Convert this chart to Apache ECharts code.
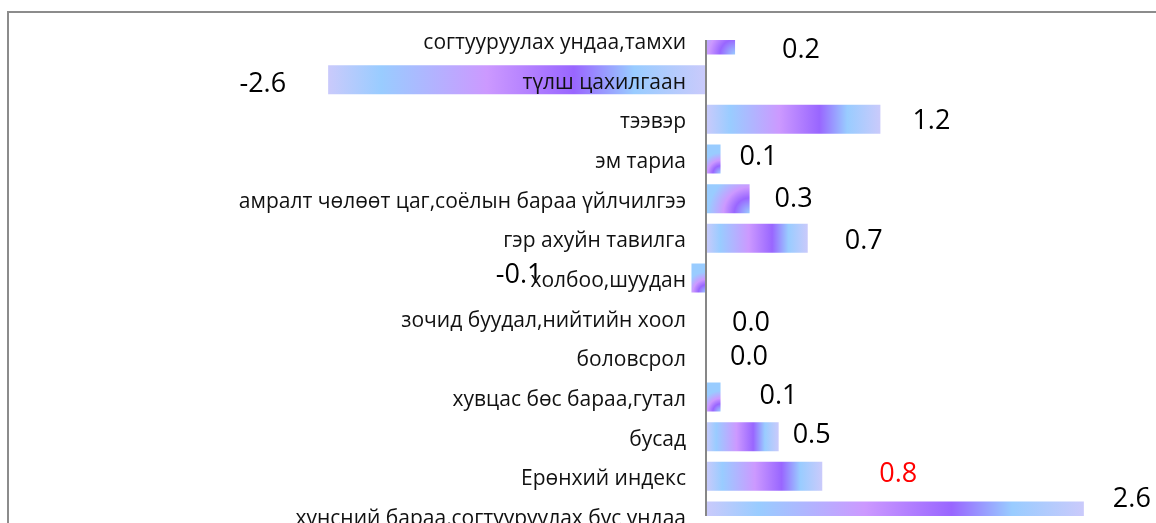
<!DOCTYPE html>
<html>
<head>
<meta charset="utf-8">
<title>Index change by group</title>
<script src="https://cdn.jsdelivr.net/npm/echarts@6/dist/echarts.min.js"></script>
<style>
  html, body { margin: 0; padding: 0; background: #fff; }
  #chart { width: 1156px; height: 523px; }
</style>
</head>
<body>
<div id="chart"></div>
<script>
// chart data
const categories = [
  'согтууруулах ундаа,тамхи',
  'түлш цахилгаан',
  'тээвэр',
  'эм тариа',
  'амралт чөлөөт цаг,соёлын бараа үйлчилгээ',
  'гэр ахуйн тавилга',
  'холбоо,шуудан',
  'зочид буудал,нийтийн хоол',
  'боловсрол',
  'хувцас бөс бараа,гутал',
  'бусад',
  'Ерөнхий индекс',
  'хүнсний бараа,согтууруулах бус ундаа'
]
const values = [0.2, -2.6, 1.2, 0.1, 0.3, 0.7, -0.1, 0.0, 0.0, 0.1, 0.5, 0.8, 2.6]
const highlightCategory = 'Ерөнхий индекс'

// hand-placed value labels (dx, dy in px), like the original
const labelNudge = [
  [47, 10], [-42, 5], [32, 2], [19, -2], [25, 1], [37, 3], [-149, -3],
  [26, 6], [24, 0], [39, -1], [14, -1], [57, -2], [29, -17]
]

// plot box: zero line sits at x = 706
const gridLeft = 270
const gridTop = 40
const gridBottom = 7
const zeroX = 706

// long bars: horizontal gradient, short bars: corner gradient
const linearFill = {
  type: 'linear', x: 0, y: 0, x2: 1, y2: 0,
  colorStops: [
    { offset: 0, color: '#cacafb' },
    { offset: 0.14, color: '#99ccff' },
    { offset: 0.42, color: '#cc99ff' },
    { offset: 0.65, color: '#9966ff' },
    { offset: 0.81, color: '#99ccff' },
    { offset: 1, color: '#cacafb' }
  ]
}
const cornerFill = {
  type: 'radial', x: 1, y: 1, r: 1.5,
  colorStops: [
    { offset: 0, color: '#99ccff' },
    { offset: 0.35, color: '#9966ff' },
    { offset: 0.6, color: '#cc99ff' },
    { offset: 0.95, color: '#99ccff' },
    { offset: 1, color: '#99ccff' }
  ]
}

const chart = echarts.init(document.getElementById('chart'))

chart.setOption({
  animation: false,
  graphic: [
    // outer frame
    {
      type: 'rect',
      silent: true,
      z: -1,
      shape: { x: 8, y: 12, width: 1300, height: 700 },
      style: { fill: 'none', stroke: '#8c8c8c', lineWidth: 2 }
    },
    // the plot area cuts the first and last bars in half
    {
      type: 'rect',
      silent: true,
      z: 10,
      shape: { x: zeroX - 2, y: 14, width: 62, height: gridTop - 14 },
      style: { fill: '#fff' }
    },
    {
      type: 'rect',
      silent: true,
      z: 10,
      shape: { x: zeroX - 2, y: 523 - gridBottom, width: 402, height: gridBottom },
      style: { fill: '#fff' }
    }
  ],
  grid: {
    left: gridLeft,
    right: 14,
    top: gridTop,
    bottom: gridBottom,
    containLabel: false,
    outerBoundsMode: 'none'
  },
  xAxis: {
    type: 'value',
    min: -3,
    max: 3,
    show: false
  },
  yAxis: {
    type: 'category',
    data: categories,
    inverse: true,
    boundaryGap: false,
    z: 3,
    axisLine: {
      onZero: true,
      lineStyle: { color: '#878787', width: 2 }
    },
    axisTick: { show: false },
    axisLabel: {
      // labels sit just left of the zero line, not at the grid edge
      margin: gridLeft - (zeroX - 20),
      formatter: v => '{c|' + v + '}',
      rich: {
        c: {
          padding: [6, 0, 0, 0],
          color: '#111',
          fontFamily: 'Open Sans',
          fontSize: 21
        }
      }
    }
  },
  series: [{
    type: 'bar',
    barWidth: 29,
    data: values.map((v, i) => ({
      value: v,
      itemStyle: { color: Math.abs(v) < 0.45 ? cornerFill : linearFill },
      label: {
        offset: labelNudge[i],
        color: categories[i] === highlightCategory ? '#ff0000' : '#000'
      }
    })),
    label: {
      show: true,
      position: 'outside',
      distance: 0,
      fontFamily: 'Open Sans',
      fontSize: 27,
      formatter: p => p.value.toFixed(1)
    }
  }]
})
</script>
</body>
</html>
